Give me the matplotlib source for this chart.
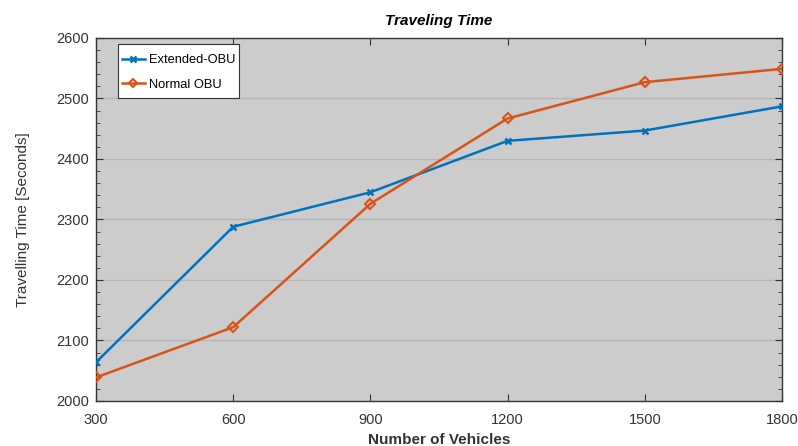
import matplotlib
matplotlib.use("Agg")
import matplotlib.pyplot as plt
from matplotlib.ticker import MultipleLocator
from matplotlib.path import Path

plt.rcParams['font.family'] = ['Liberation Sans', 'DejaVu Sans']

vehicles = [300, 600, 900, 1200, 1500, 1800]
extended_obu = [2064, 2288, 2345, 2430, 2447, 2487]
normal_obu = [2039, 2122, 2326, 2467, 2527, 2549]
x_ticks = [300, 600, 900, 1200, 1500, 1800]
y_ticks = [2000, 2100, 2200, 2300, 2400, 2500, 2600]

fig = plt.figure(figsize=(7.98, 4.46), dpi=100)
ax = fig.add_axes([96/798, 1-401/446, (782-96)/798, (401-38)/446])
ax.set_facecolor('#cccccc')

ax.plot(vehicles, extended_obu, color='#0072BD', lw=1.8, marker='x', ms=5, mew=1.8,
        label='Extended-OBU', zorder=3)
ax.plot(vehicles, normal_obu, color='#D95319', lw=1.8, marker='D', ms=5, mew=1.5,
        mfc='none', label='Normal OBU', zorder=3)

ax.set_xlim(300, 1800)
ax.set_ylim(2000, 2600)
ax.set_xticks(x_ticks)
ax.set_yticks(y_ticks)
ax.yaxis.set_minor_locator(MultipleLocator(20))
ax.tick_params(which='both', direction='in', top=True, right=True, colors='#333333',
               labelsize=10.5)
ax.tick_params(which='major', length=5)
ax.tick_params(which='minor', length=3)
ax.tick_params(axis='x', pad=9)
ax.tick_params(axis='y', pad=5)
ax.grid(axis='y', which='major', color='#b5b5b5', lw=1)
ax.set_axisbelow(True)
for s in ax.spines.values():
    s.set_color('#333333')
    s.set_linewidth(1)

ax.set_title('Traveling Time', fontsize=11, fontweight='bold', fontstyle='italic',
             color='#000000', pad=9)
ax.set_xlabel('Number of Vehicles', fontsize=11, fontweight='bold', color='#333333', labelpad=4)
ax.set_ylabel('Travelling Time [Seconds]', fontsize=11, color='#333333', labelpad=19)

leg = ax.legend(loc='upper left', bbox_to_anchor=(0.032, 0.9655), fontsize=9.3,
                frameon=True, fancybox=False, framealpha=1, borderpad=0.3,
                borderaxespad=0.0, handlelength=1.8, handletextpad=0.3,
                labelspacing=0.95, markerscale=0.8)


def tall_box(x0, y0, width, height, mutation_scale):
    dy_bottom = 3.0
    dy_top = 7.0
    verts = [(x0, y0 - dy_bottom), (x0 + width, y0 - dy_bottom),
             (x0 + width, y0 + height + dy_top), (x0, y0 + height + dy_top),
             (x0, y0 - dy_bottom)]
    codes = [Path.MOVETO, Path.LINETO, Path.LINETO, Path.LINETO, Path.CLOSEPOLY]
    return Path(verts, codes)


frame = leg.get_frame()
frame.set_boxstyle(tall_box)
frame.set_facecolor('white')
frame.set_edgecolor('#333333')
frame.set_linewidth(0.8)

fig.savefig('out.png', dpi=100)
